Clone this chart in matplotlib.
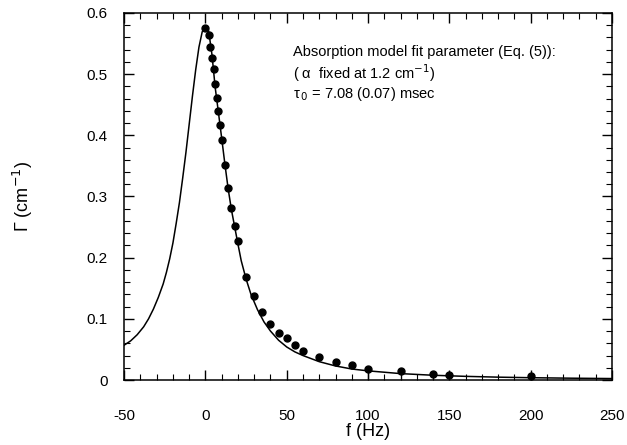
import matplotlib
matplotlib.use("Agg")
import matplotlib.pyplot as plt
from matplotlib.ticker import MultipleLocator, FuncFormatter

plt.rcParams['font.family'] = ['Liberation Sans', 'DejaVu Sans']
plt.rcParams['axes.unicode_minus'] = False

# measured data points
f_data = [0, 2, 3, 4, 5, 6, 7, 8, 9, 10, 12, 14, 16, 18, 20, 25, 30, 35, 40, 45,
          50, 55, 60, 70, 80, 90, 100, 120, 140, 150, 200]
g_data = [0.575, 0.564, 0.545, 0.526, 0.509, 0.483, 0.461, 0.439, 0.416, 0.393,
          0.351, 0.314, 0.281, 0.251, 0.227, 0.168, 0.137, 0.111, 0.091, 0.077,
          0.068, 0.057, 0.048, 0.0375, 0.030, 0.0245, 0.0185, 0.0147, 0.0103, 0.0087, 0.0065]

# points carrying a visible error bar (lower part)
f_err = [100, 120, 140, 200]
g_err = [0.0185, 0.0147, 0.0103, 0.0065]

# model curve
f_fit = [-50, -46, -42, -38, -35, -32, -29, -26, -24, -22, -20, -18, -16, -14, -12, -10,
         -8, -6, -4, -2, 0, 1, 2, 4, 6, 8,
         10, 12, 14, 16, 18, 20, 22, 25, 28, 32, 36, 40, 45, 50, 55, 60, 70, 80, 90, 100,
         120, 140, 160, 180, 200, 225, 250]
g_fit = [0.057, 0.064, 0.074, 0.087, 0.100, 0.116, 0.135, 0.157, 0.176, 0.198, 0.224,
         0.256, 0.290, 0.330, 0.372, 0.418, 0.464, 0.507,
         0.544, 0.569, 0.578, 0.577, 0.570, 0.532, 0.478, 0.437, 0.395, 0.352, 0.312, 0.278,
         0.250, 0.222, 0.195, 0.165, 0.140, 0.115, 0.095, 0.080, 0.065, 0.054, 0.046, 0.040,
         0.030, 0.023, 0.018, 0.0150, 0.0105, 0.0078, 0.0060, 0.0047, 0.0038, 0.0030, 0.0024]

x_ticks = [-50, 0, 50, 100, 150, 200, 250]
y_ticks = [0, 0.1, 0.2, 0.3, 0.4, 0.5, 0.6]

fig = plt.figure(figsize=(6.27, 4.45), dpi=100)
ax = fig.add_axes([0.198, 0.146, 0.778, 0.825])

ax.plot(f_fit, g_fit, color='black', lw=1.1)
ax.plot(f_data, g_data, 'o', color='black', ms=5)
ax.errorbar(f_err, g_err, yerr=[g_err, [0] * len(g_err)], fmt='none', ecolor='black', elinewidth=0.9)

ax.set_xlim(-50, 250)
ax.set_ylim(0, 0.6)
ax.set_xticks(x_ticks)
ax.set_yticks(y_ticks)
ax.xaxis.set_minor_locator(MultipleLocator(10))
ax.yaxis.set_minor_locator(MultipleLocator(0.02))
ax.yaxis.set_major_formatter(FuncFormatter(lambda v, p: '0' if abs(v) < 1e-9 else f'{v:.1f}'))
ax.tick_params(which='both', direction='in', top=True, right=True, labelsize=11)
ax.tick_params(which='major', length=7, width=1)
ax.tick_params(which='minor', length=4, width=0.8)
ax.tick_params(axis='x', which='major', pad=21)
ax.tick_params(axis='y', which='major', pad=12)
for s in ax.spines.values():
    s.set_linewidth(1.1)

ax.set_xlabel('f (Hz)', fontsize=13, labelpad=0)
ax.set_ylabel('Γ (cm$^{-1}$)', fontsize=13, labelpad=37)

ax.text(0.346, 0.894, 'Absorption model fit parameter (Eq. (5)):', transform=ax.transAxes,
        fontsize=10.5, va='center', ha='left')
ax.text(0.346, 0.835, '( α  fixed at 1.2 cm$^{-1}$)', transform=ax.transAxes,
        fontsize=10.5, va='center', ha='left')
ax.text(0.346, 0.778, 'τ$_{\\,0}$ = 7.08 (0.07) msec', transform=ax.transAxes,
        fontsize=10.5, va='center', ha='left')

fig.savefig('out.png', dpi=100)
